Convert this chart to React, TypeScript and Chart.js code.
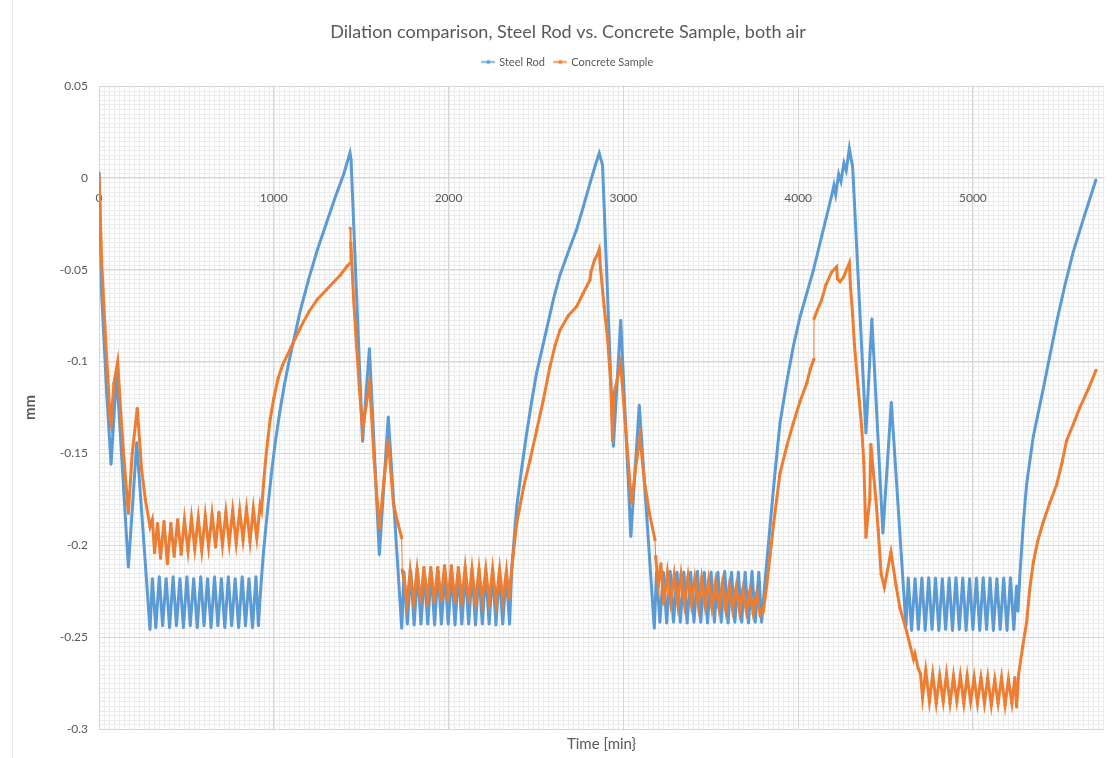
import { useEffect, useRef } from 'react';
import { Chart, registerables } from 'chart.js';

Chart.register(...registerables);

// [minutes, mm]
const steelRod: [number, number][] = [
  [0, 0.003], [15, -0.063], [44, -0.117], [69, -0.156], [101, -0.106], [168, -0.212], [216, -0.144], [292, -0.246],
  [305, -0.218], [325, -0.245], [345, -0.217], [364, -0.244], [384, -0.218], [404, -0.245], [424, -0.217], [443, -0.244],
  [463, -0.218], [483, -0.245], [503, -0.217], [522, -0.244], [542, -0.218], [562, -0.245], [582, -0.217], [601, -0.244],
  [621, -0.218], [641, -0.245], [661, -0.217], [680, -0.244], [700, -0.218], [720, -0.245], [740, -0.217], [759, -0.244],
  [779, -0.218], [799, -0.245], [819, -0.217], [838, -0.244], [858, -0.218], [878, -0.245], [898, -0.217], [912, -0.244],
  [922, -0.228], [940, -0.205], [965, -0.18], [990, -0.158], [1010, -0.143], [1035, -0.127], [1060, -0.113], [1085, -0.101],
  [1110, -0.09], [1150, -0.073], [1200, -0.055], [1250, -0.039], [1300, -0.025], [1350, -0.011], [1400, 0.002], [1436, 0.0136],
  [1442, 0.01], [1508, -0.1436], [1547, -0.0928], [1604, -0.2053], [1655, -0.13], [1732, -0.2453],
  [1745, -0.2145], [1764, -0.243], [1784, -0.214], [1803, -0.2435], [1823, -0.2145], [1842, -0.243], [1862, -0.215], [1881, -0.243],
  [1901, -0.2145], [1920, -0.2435], [1940, -0.214], [1959, -0.243], [1979, -0.2145], [1998, -0.243], [2018, -0.215], [2037, -0.2435],
  [2057, -0.2145], [2076, -0.243], [2096, -0.214], [2115, -0.243], [2135, -0.2145], [2154, -0.2435], [2174, -0.215], [2193, -0.243],
  [2213, -0.2145], [2232, -0.243], [2252, -0.214], [2271, -0.2435], [2291, -0.2145], [2310, -0.243], [2330, -0.215], [2349, -0.243],
  [2362, -0.212], [2390, -0.179], [2420, -0.157], [2447, -0.139], [2475, -0.122], [2504, -0.106], [2550, -0.087], [2600, -0.066],
  [2637, -0.053], [2690, -0.039], [2733, -0.028], [2770, -0.016], [2809, -0.003], [2840, 0.007], [2862, 0.0134],
  [2881, 0.007], [2943, -0.1463], [2985, -0.0773], [3043, -0.1954], [3091, -0.1236], [3177, -0.2453],
  [3190, -0.2144], [3209, -0.242], [3229, -0.2145], [3248, -0.2425], [3268, -0.214], [3287, -0.242], [3307, -0.2145], [3326, -0.242],
  [3346, -0.2144], [3365, -0.2425], [3385, -0.2145], [3404, -0.242], [3424, -0.214], [3443, -0.242], [3463, -0.2145], [3482, -0.2425],
  [3502, -0.2144], [3521, -0.242], [3541, -0.2145], [3560, -0.242], [3580, -0.214], [3599, -0.2425], [3619, -0.2145], [3638, -0.242],
  [3658, -0.2144], [3677, -0.242], [3697, -0.2145], [3716, -0.2425], [3736, -0.214], [3755, -0.242], [3775, -0.2145], [3791, -0.242],
  [3815, -0.215], [3858, -0.17], [3896, -0.1336], [3935, -0.111], [3972, -0.0919], [4010, -0.076], [4049, -0.063], [4087, -0.0504],
  [4125, -0.0356], [4160, -0.022], [4191, -0.01], [4205, -0.004], [4215, -0.009], [4232, 0.002], [4245, -0.002], [4262, 0.008],
  [4275, 0.004], [4293, 0.016], [4302, 0.011], [4312, 0.006],
  [4388, -0.139], [4422, -0.0766], [4485, -0.1935], [4533, -0.122], [4617, -0.244],
  [4630, -0.2177], [4649, -0.2465], [4669, -0.218], [4688, -0.246], [4708, -0.2177], [4727, -0.2465], [4747, -0.2175], [4766, -0.246],
  [4786, -0.2177], [4805, -0.2465], [4825, -0.218], [4844, -0.246], [4864, -0.2177], [4883, -0.2465], [4903, -0.2175], [4922, -0.246],
  [4942, -0.2177], [4961, -0.2465], [4981, -0.218], [5000, -0.246], [5020, -0.2177], [5039, -0.2465], [5059, -0.2175], [5078, -0.246],
  [5098, -0.2177], [5117, -0.2465], [5137, -0.218], [5156, -0.246], [5176, -0.2177], [5195, -0.2465], [5215, -0.2175], [5234, -0.246],
  [5250, -0.222], [5258, -0.236], [5269, -0.2157], [5290, -0.186], [5307, -0.167], [5345, -0.141], [5402, -0.115], [5440, -0.097],
  [5479, -0.0786], [5525, -0.059], [5574, -0.0403], [5640, -0.02], [5704, -0.001],
];

// [minutes, mm]
const concreteSample: [number, number][] = [
  [0, 0.0015], [6, -0.015], [15, -0.045], [34, -0.081], [50, -0.108], [63, -0.13], [69, -0.1336], [85, -0.112],
  [107, -0.1], [125, -0.128], [139, -0.148], [168, -0.1826], [190, -0.15], [219, -0.1254], [244, -0.159], [265, -0.175], [292, -0.19],
  [305, -0.186], [318, -0.204], [335, -0.188], [352, -0.207], [372, -0.187], [391, -0.21], [411, -0.188], [430, -0.206],
  [450, -0.186], [470, -0.205], [489, -0.186], [509, -0.203], [529, -0.185], [548, -0.202], [568, -0.185], [588, -0.203],
  [608, -0.184], [627, -0.201], [647, -0.183], [667, -0.201], [686, -0.182], [706, -0.2], [726, -0.182], [745, -0.199],
  [765, -0.181], [785, -0.199], [805, -0.181], [824, -0.197], [844, -0.18], [864, -0.198], [883, -0.18], [903, -0.196],
  [922, -0.178], [930, -0.181],
  [940, -0.168], [952, -0.155], [965, -0.143], [980, -0.131], [1000, -0.12], [1025, -0.109], [1050, -0.102], [1075, -0.097],
  [1100, -0.092], [1150, -0.082], [1200, -0.073], [1250, -0.066], [1300, -0.061], [1340, -0.057], [1380, -0.053], [1420, -0.048],
  [1436, -0.0465], [1437, -0.0274], [1441, -0.0355], [1456, -0.065], [1474, -0.0919], [1490, -0.115], [1508, -0.137], [1528, -0.124],
  [1547, -0.1118], [1560, -0.13], [1573, -0.152], [1604, -0.1908], [1630, -0.165], [1655, -0.1427], [1670, -0.16], [1684, -0.177],
  [1710, -0.188], [1732, -0.196], [1735, -0.2135],
  [1750, -0.222], [1762, -0.232], [1780, -0.214], [1800, -0.231], [1820, -0.213], [1840, -0.231], [1859, -0.212], [1879, -0.23],
  [1898, -0.212], [1918, -0.231], [1938, -0.212], [1957, -0.23], [1977, -0.211], [1997, -0.23], [2016, -0.211], [2036, -0.231],
  [2056, -0.212], [2075, -0.23], [2095, -0.212], [2115, -0.231], [2134, -0.213], [2154, -0.231], [2174, -0.213], [2193, -0.23],
  [2213, -0.213], [2233, -0.231], [2252, -0.213], [2272, -0.231], [2292, -0.213], [2311, -0.23], [2331, -0.214], [2345, -0.229],
  [2355, -0.219],
  [2370, -0.205], [2390, -0.188], [2430, -0.168], [2466, -0.1536], [2505, -0.137], [2542, -0.121], [2580, -0.1028], [2610, -0.091],
  [2637, -0.083], [2685, -0.075], [2733, -0.07], [2770, -0.0628], [2809, -0.0556], [2815, -0.051], [2835, -0.0447], [2855, -0.041],
  [2862, -0.039],
  [2870, -0.05], [2890, -0.07], [2910, -0.088], [2928, -0.112], [2938, -0.143], [2945, -0.118], [2965, -0.11], [2984, -0.101],
  [3000, -0.12], [3020, -0.145], [3047, -0.177], [3070, -0.158], [3095, -0.141], [3120, -0.165], [3150, -0.183], [3181, -0.197],
  [3185, -0.206],
  [3200, -0.222], [3215, -0.21], [3232, -0.232], [3252, -0.215], [3271, -0.231], [3291, -0.216], [3311, -0.232], [3330, -0.216],
  [3350, -0.232], [3370, -0.217], [3389, -0.232], [3409, -0.218], [3429, -0.233], [3448, -0.218], [3468, -0.233], [3488, -0.219],
  [3507, -0.234], [3527, -0.22], [3547, -0.234], [3566, -0.221], [3586, -0.235], [3606, -0.222], [3625, -0.235], [3645, -0.223],
  [3665, -0.236], [3684, -0.224], [3704, -0.236], [3724, -0.225], [3743, -0.237], [3763, -0.226], [3783, -0.238], [3801, -0.236],
  [3820, -0.222], [3839, -0.206], [3860, -0.188], [3896, -0.161], [3935, -0.146], [3972, -0.1336], [4010, -0.122], [4049, -0.1118],
  [4070, -0.104], [4090, -0.0988], [4091, -0.0766], [4110, -0.072], [4134, -0.0665], [4160, -0.058], [4191, -0.0514], [4220, -0.0484],
  [4225, -0.055], [4240, -0.0565], [4260, -0.054], [4280, -0.0494], [4293, -0.0464],
  [4300, -0.06], [4312, -0.0746], [4322, -0.0907], [4344, -0.115], [4363, -0.135], [4376, -0.155], [4388, -0.1956], [4400, -0.183],
  [4410, -0.175], [4416, -0.145], [4430, -0.16], [4445, -0.175], [4458, -0.1915], [4475, -0.2157], [4493, -0.2228], [4531, -0.2036],
  [4560, -0.2218], [4582, -0.234], [4621, -0.247], [4660, -0.262], [4668, -0.259], [4687, -0.267],
  [4700, -0.27], [4712, -0.283], [4730, -0.268], [4751, -0.285], [4770, -0.27], [4790, -0.286], [4810, -0.271], [4830, -0.285],
  [4849, -0.27], [4869, -0.286], [4889, -0.271], [4908, -0.285], [4928, -0.271], [4948, -0.286], [4967, -0.271], [4987, -0.285],
  [5007, -0.272], [5026, -0.286], [5046, -0.272], [5066, -0.286], [5085, -0.272], [5105, -0.287], [5125, -0.273], [5144, -0.286],
  [5164, -0.272], [5184, -0.287], [5203, -0.273], [5223, -0.286], [5240, -0.272], [5250, -0.288],
  [5262, -0.27], [5285, -0.255], [5307, -0.242], [5325, -0.224], [5345, -0.2097], [5370, -0.198], [5402, -0.1875], [5440, -0.177],
  [5479, -0.167], [5510, -0.155], [5536, -0.143], [5575, -0.134], [5612, -0.125], [5660, -0.115], [5704, -0.1048],
];

const seriesNames = ['Steel Rod', 'Concrete Sample'];
const seriesColors = ['#5B9BD5', '#ED7D31'];
const xTickValues = [0, 1000, 2000, 3000, 4000, 5000];
const yTickValues = [0.05, 0, -0.05, -0.1, -0.15, -0.2, -0.25, -0.3];

const X_MIN = 0;
const X_MAX = 5750;
const Y_MIN = -0.3;
const Y_MAX = 0.05;
const X_MINOR = 1000 / 35;
const Y_MINOR = 0.0025;

const FONT = 'Lato, "Noto Sans", sans-serif';
const TEXT = '#595959';
const MAJOR_GRID = '#d6d6d6';
const MINOR_GRID = '#ebebeb';

// Excel-like legend glyph: short line with a dot in the middle
function legendGlyph(color: string): HTMLCanvasElement {
  const c = document.createElement('canvas');
  c.width = 14;
  c.height = 7;
  const g = c.getContext('2d')!;
  g.strokeStyle = color;
  g.lineWidth = 1.5;
  g.beginPath();
  g.moveTo(0, 3.5);
  g.lineTo(14, 3.5);
  g.stroke();
  g.fillStyle = color;
  g.beginPath();
  g.arc(7, 3.5, 2, 0, Math.PI * 2);
  g.fill();
  return c;
}

// fine minor gridlines under the major grid
const minorGrid = {
  id: 'minorGrid',
  beforeDraw(chart: any) {
    const { ctx, chartArea } = chart;
    const { left, right, top, bottom } = chartArea;
    const xs = chart.scales.x;
    const ys = chart.scales.y;
    ctx.save();
    ctx.strokeStyle = MINOR_GRID;
    ctx.lineWidth = 1;
    ctx.beginPath();
    for (let i = 0; X_MIN + i * X_MINOR <= X_MAX + 1e-6; i++) {
      const px = Math.round(xs.getPixelForValue(X_MIN + i * X_MINOR)) + 0.5;
      ctx.moveTo(px, top);
      ctx.lineTo(px, bottom);
    }
    for (let i = 0; Y_MIN + i * Y_MINOR <= Y_MAX + 1e-9; i++) {
      const py = Math.round(ys.getPixelForValue(Y_MIN + i * Y_MINOR)) + 0.5;
      ctx.moveTo(left, py);
      ctx.lineTo(right, py);
    }
    ctx.stroke();
    // faint sheet edge on the far left
    ctx.strokeStyle = '#ececec';
    ctx.beginPath();
    ctx.moveTo(12.5, 0);
    ctx.lineTo(12.5, chart.height);
    ctx.stroke();
    ctx.restore();
  },
};

function fmtTick(v: number | string): string {
  return String(parseFloat(Number(v).toFixed(3)));
}

export default function App() {
  const canvasRef = useRef<HTMLCanvasElement>(null);

  useEffect(() => {
    const canvas = canvasRef.current;
    if (!canvas) return;
    const glyphs = seriesColors.map(legendGlyph);
    const toPoints = (rows: [number, number][]) => rows.map(([x, y]) => ({ x, y }));
    const thinJump = (ctx: any) => (ctx.p1.parsed.x - ctx.p0.parsed.x < 5 ? 1 : undefined);

    const chart = new Chart(canvas, {
      type: 'scatter',
      data: {
        datasets: [
          {
            label: seriesNames[0],
            data: toPoints(steelRod),
            showLine: true,
            borderColor: seriesColors[0],
            backgroundColor: seriesColors[0],
            borderWidth: 3,
            pointRadius: 1.2,
            pointBorderWidth: 0,
            order: 1,
          },
          {
            label: seriesNames[1],
            data: toPoints(concreteSample),
            showLine: true,
            borderColor: seriesColors[1],
            backgroundColor: seriesColors[1],
            borderWidth: 3,
            pointRadius: 1.6,
            pointBorderWidth: 0,
            order: 0,
            segment: { borderWidth: thinJump },
          },
        ],
      },
      options: {
        responsive: false,
        animation: false,
        devicePixelRatio: 1,
        layout: { padding: { left: 21, right: 0, top: 0, bottom: 0 } },
        plugins: {
          title: {
            display: true,
            text: 'Dilation comparison, Steel Rod vs. Concrete Sample, both air',
            color: TEXT,
            font: { family: FONT, size: 18, weight: 'normal' },
            padding: { top: 21.2, bottom: 3.7 },
          },
          legend: {
            display: true,
            position: 'top',
            labels: {
              usePointStyle: true,
              color: TEXT,
              font: { family: FONT, size: 11 },
              padding: 10,
              sort: (a: any, b: any) => a.datasetIndex - b.datasetIndex,
              generateLabels: (ch: any) =>
                Chart.defaults.plugins.legend.labels
                  .generateLabels(ch)
                  .map((l: any) => ({ ...l, pointStyle: glyphs[l.datasetIndex] })),
            },
          },
          tooltip: { enabled: false },
        },
        scales: {
          x: {
            type: 'linear',
            position: { y: 0 } as any,
            min: X_MIN,
            max: X_MAX,
            afterBuildTicks: (s: any) => {
              s.ticks = xTickValues.map((value) => ({ value }));
            },
            ticks: {
              color: TEXT,
              font: { family: FONT, size: 12 },
              padding: 13,
              autoSkip: false,
              maxRotation: 0,
              callback: (v: any) => fmtTick(v),
            },
            grid: { color: MAJOR_GRID, drawTicks: false },
            border: { color: MAJOR_GRID },
          },
          xTitle: {
            type: 'linear',
            axis: 'x',
            position: 'bottom',
            min: X_MIN,
            max: X_MAX,
            ticks: { display: false },
            grid: { display: false },
            border: { display: false },
            title: {
              display: true,
              text: 'Time [min}',
              color: TEXT,
              font: { family: FONT, size: 15 },
              padding: { top: 0, bottom: 4.5 },
            },
            afterFit: (s: any) => {
              s.height = 29;
            },
          },
          xGap: {
            type: 'linear',
            axis: 'x',
            position: 'top',
            min: X_MIN,
            max: X_MAX,
            ticks: { display: false },
            grid: { display: false },
            border: { display: false },
            afterFit: (s: any) => {
              s.height = 8.5;
            },
          },
          yGap: {
            type: 'linear',
            axis: 'y',
            position: 'right',
            min: Y_MIN,
            max: Y_MAX,
            ticks: { display: false },
            grid: { display: false },
            border: { display: false },
            afterFit: (s: any) => {
              s.width = 11;
            },
          },
          y: {
            type: 'linear',
            position: 'left',
            min: Y_MIN,
            max: Y_MAX,
            afterBuildTicks: (s: any) => {
              s.ticks = yTickValues.map((value) => ({ value }));
            },
            ticks: {
              color: TEXT,
              font: { family: FONT, size: 12 },
              padding: 11,
              autoSkip: false,
              callback: (v: any) => fmtTick(v),
            },
            grid: { color: MAJOR_GRID, drawTicks: false },
            border: { color: MAJOR_GRID },
            title: {
              display: true,
              text: 'mm',
              color: TEXT,
              font: { family: FONT, size: 15, weight: 'bold' },
              padding: { top: 0, bottom: 0 },
            },
            afterFit: (s: any) => {
              s.width = 78;
            },
          },
        },
      },
      plugins: [minorGrid],
    } as any);

    return () => chart.destroy();
  }, []);

  return (
    <div style={{ position: 'fixed', left: 0, top: 0, width: 1115, height: 758, background: '#ffffff' }}>
      <canvas ref={canvasRef} width={1115} height={758} style={{ display: 'block' }} />
    </div>
  );
}
